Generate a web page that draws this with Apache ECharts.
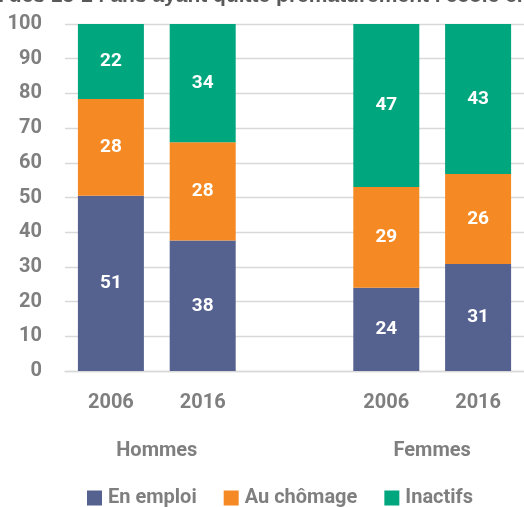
<!DOCTYPE html>
<html>
<head>
<meta charset="utf-8">
<script src="https://cdn.jsdelivr.net/npm/echarts@6/dist/echarts.min.js"></script>
<style>
  html, body { margin: 0; padding: 0; background: #fff; }
  #chart { width: 524px; height: 507px; }
</style>
</head>
<body>
<div id="chart"></div>
<script>
// catégories : une case vide sépare Hommes et Femmes
const years = ['2006', '2016', '', '2006', '2016'];
const groups = ['Hommes', 'Femmes'];
const groupSlots = [[0, 1], [3, 4]];

const enEmploi = [50.5, 37.6, null, 24.0, 30.8];
const auChomage = [27.9, 28.3, null, 29.0, 26.0];
const inactifs = [21.6, 34.1, null, 47.0, 43.2];

const FONT = 'Roboto, "DejaVu Sans Condensed", sans-serif';
const GREY = '#7f7f7f';

const chart = echarts.init(document.getElementById('chart'));

const seg = (name, data, color) => ({
  name,
  type: 'bar',
  stack: 'total',
  data,
  barWidth: 66,
  itemStyle: { color },
  label: {
    show: true,
    position: 'inside',
    color: '#fff',
    fontFamily: FONT,
    fontWeight: 'bold',
    fontSize: 19,
    formatter: (p) => Math.round(p.value),
  },
});

chart.setOption({
  animation: false,
  textStyle: { fontFamily: FONT },
  grid: { left: 65, right: -5, top: 24, bottom: 136 },
  legend: {
    bottom: -6,
    left: 82,
    icon: 'rect',
    itemWidth: 15,
    itemHeight: 15,
    itemGap: 27,
    textStyle: { color: GREY, fontFamily: FONT, fontWeight: 'bold', fontSize: 20, padding: [0, 0, 0, 1] },
    data: ['En emploi', 'Au chômage', 'Inactifs'],
  },
  xAxis: {
    type: 'category',
    data: years,
    axisTick: { show: false },
    axisLine: { lineStyle: { color: '#d9d9d9', width: 1.3 } },
    axisLabel: { color: GREY, fontFamily: FONT, fontWeight: 'bold', fontSize: 20, margin: 22 },
  },
  yAxis: {
    type: 'value',
    min: 0,
    max: 100,
    interval: 10,
    axisLine: { show: false },
    axisTick: { show: false },
    axisLabel: { color: GREY, fontFamily: FONT, fontWeight: 'bold', fontSize: 20, margin: 23 },
    splitLine: { lineStyle: { color: '#d9d9d9', width: 1.3 } },
  },
  series: [
    seg('En emploi', enEmploi, '#55628f'),
    seg('Au chômage', auChomage, '#f58a24'),
    seg('Inactifs', inactifs, '#00a67e'),
  ],
});

// libellés de groupe centrés sous leurs deux barres, plus le titre coupé en haut
const groupText = groups.map((g, i) => {
  const xs = groupSlots[i].map((k) => chart.convertToPixel({ xAxisIndex: 0 }, k));
  return {
    type: 'text',
    x: (xs[0] + xs[1]) / 2,
    y: 451,
    style: {
      text: g,
      fill: GREY,
      font: 'bold 20px ' + FONT,
      textAlign: 'center',
      textVerticalAlign: 'middle',
    },
  };
});

chart.setOption({
  graphic: [
    ...groupText,
    {
      type: 'text',
      x: -4,
      y: 7,
      style: {
        text: "t des 15-24 ans ayant quitté prématurément l'école en",
        fill: '#595959',
        font: 'bold 21px "Liberation Sans", sans-serif',
        textVerticalAlign: 'bottom',
      },
    },
  ],
});
</script>
</body>
</html>
